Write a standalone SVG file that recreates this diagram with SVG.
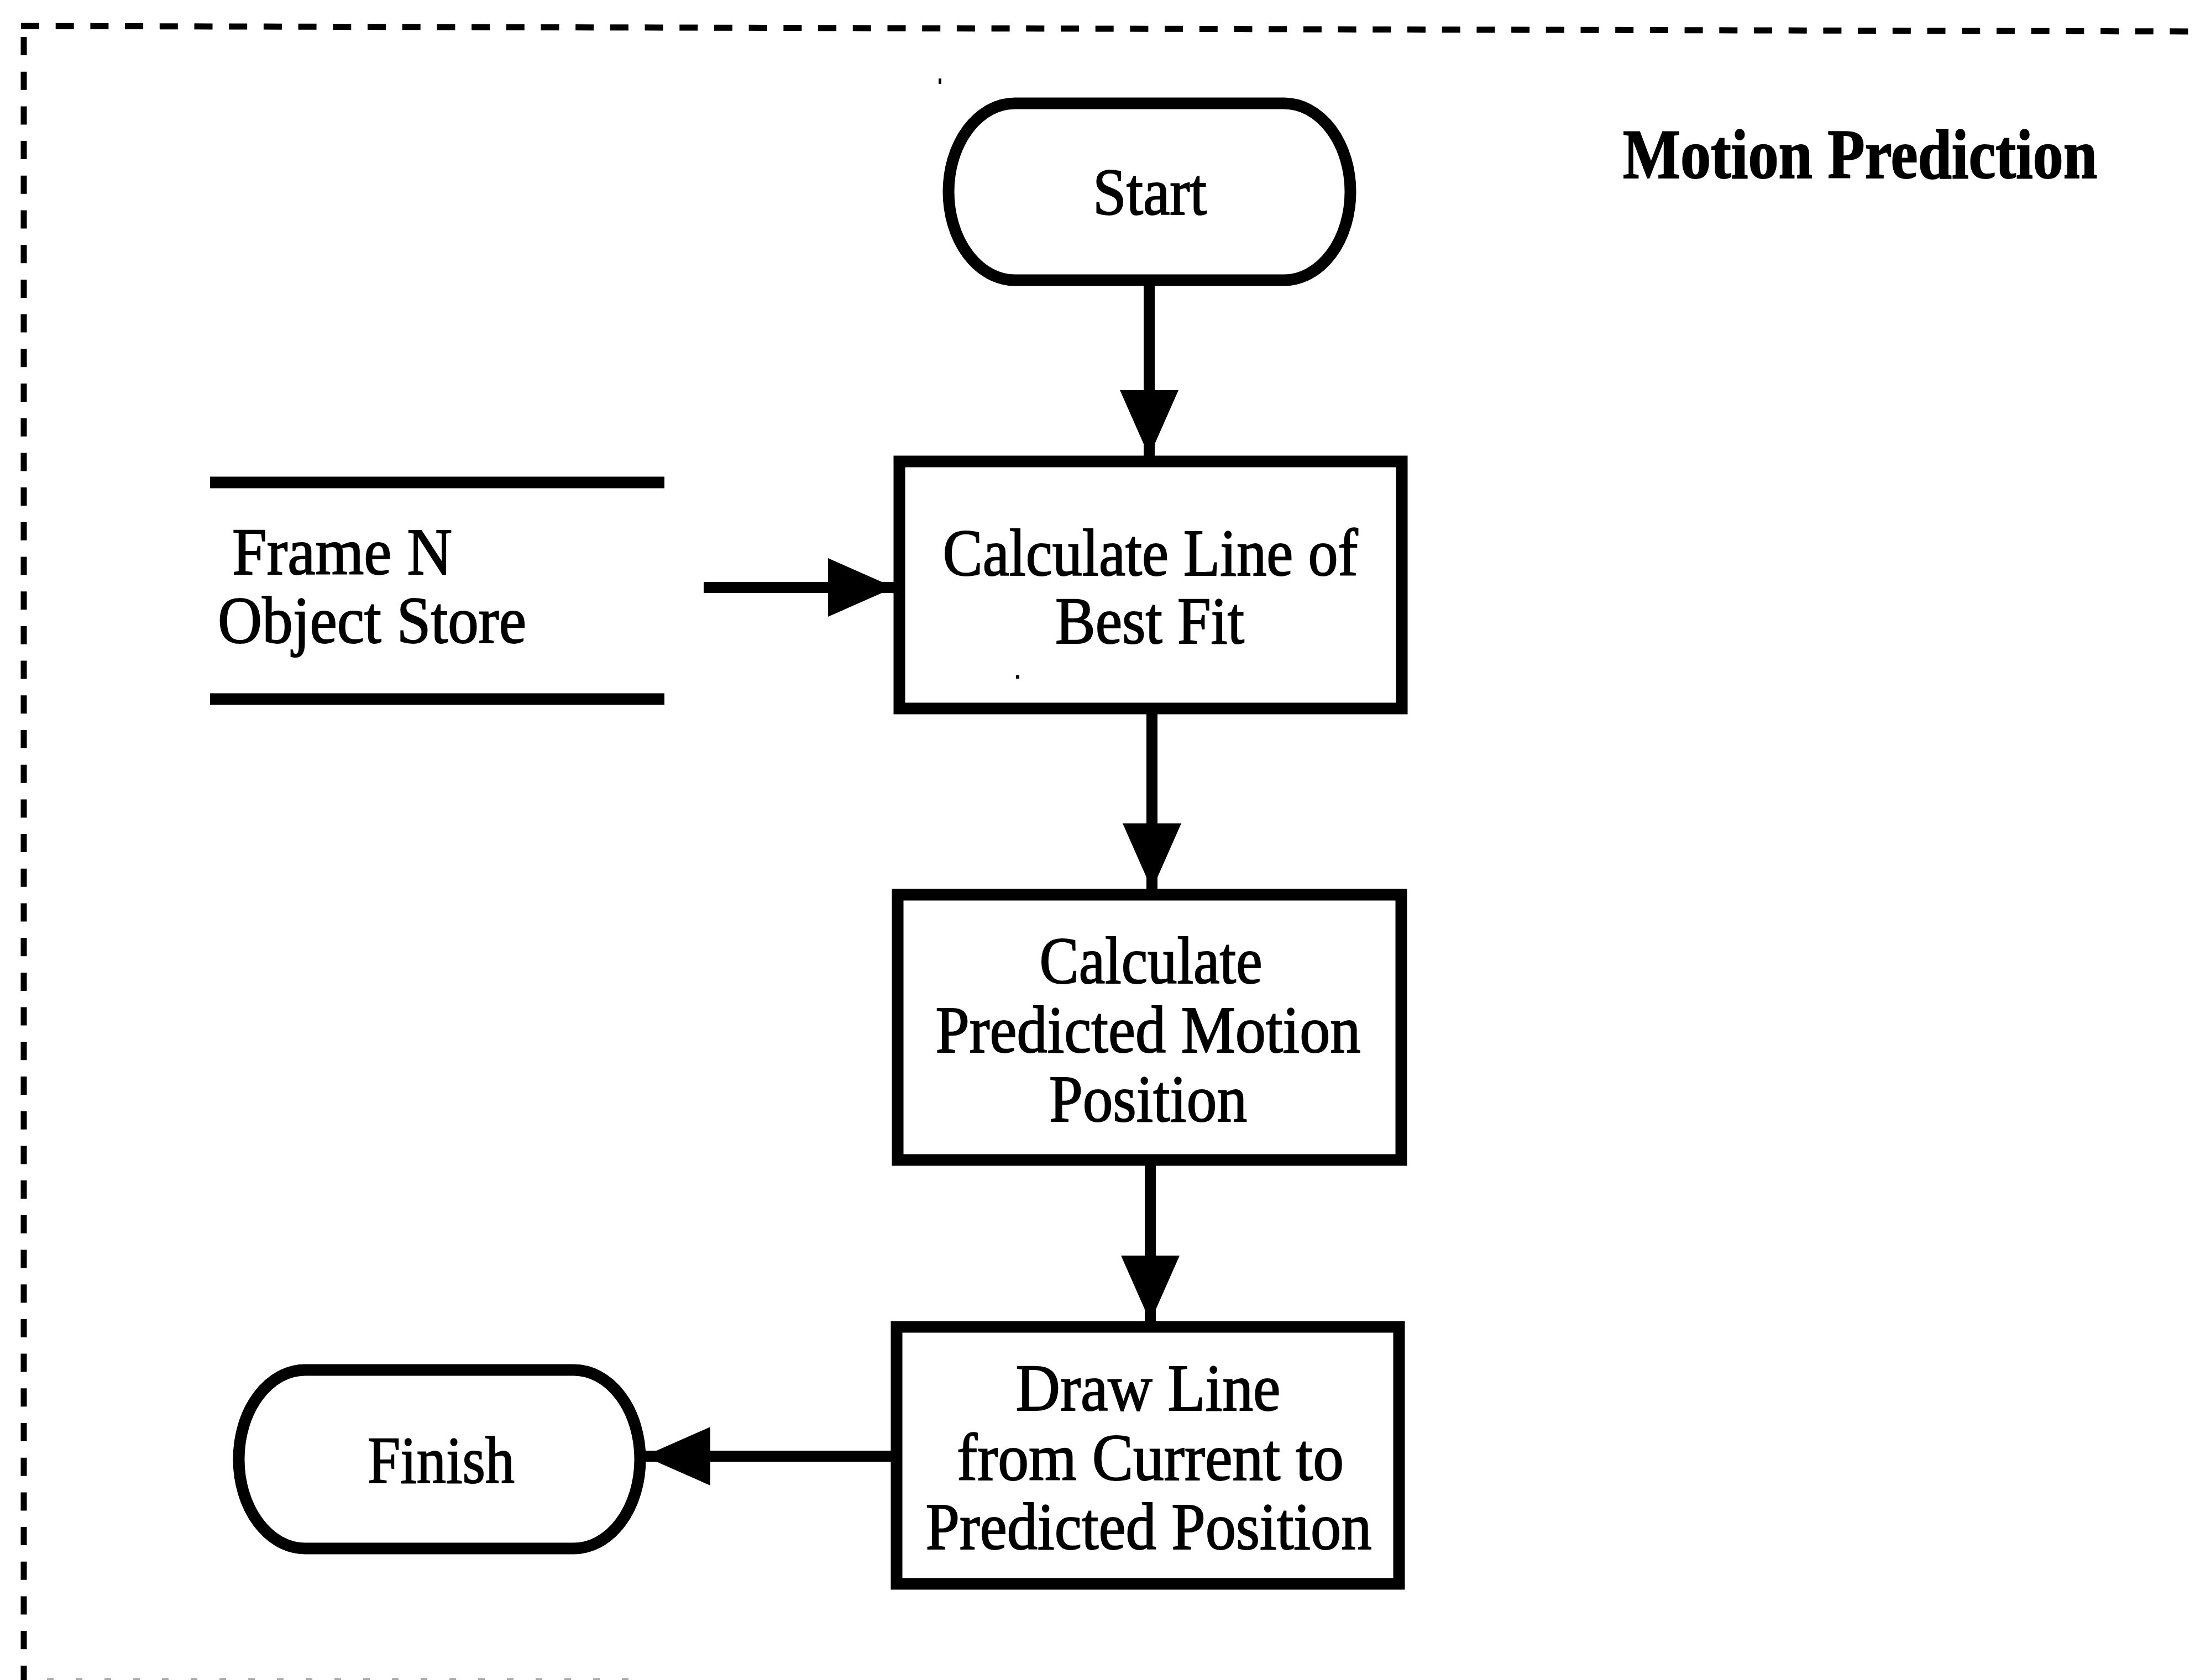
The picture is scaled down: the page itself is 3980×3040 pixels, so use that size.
<svg xmlns="http://www.w3.org/2000/svg" width="3980" height="3040" viewBox="0 0 3980 3040">
  <style>
    .t { font-family: "Liberation Serif", "Times New Roman", serif; font-size: 120px; fill: #000; stroke: #000; stroke-width: 2; }
    .mid { text-anchor: middle; }
    .title { font-weight: bold; font-size: 127px; }
    .shape { fill: #fff; stroke: #000; stroke-width: 21; }
    .store { stroke: #000; stroke-width: 21; fill: none; }
    .conn { stroke: #000; stroke-width: 20; fill: none; marker-end: url(#arrow); }
    .frame { stroke: #000; stroke-width: 11; fill: none; stroke-dasharray: 33 29.7; }
    .edge { stroke: #aaa; stroke-width: 5; fill: none; stroke-dasharray: 12 40; }
  </style>
  <defs>
    <marker id="arrow" markerUnits="userSpaceOnUse" markerWidth="120" markerHeight="106" viewBox="0 0 120 106" refX="119" refY="53" orient="auto">
      <path d="M0,0 L120,53 L0,106 Z" fill="#000"/>
    </marker>
  </defs>

  <rect width="3980" height="3040" fill="#fff"/>

  <!-- dashed boundary of the process -->
  <g id="boundary">
    <path class="frame" d="M38,47 L3980,57"/>
    <path class="frame" d="M43,67 L43,3040"/>
    <path class="edge" d="M85,3039 L1170,3039"/>
  </g>

  <g id="title">
    <text class="t title" x="2936" y="322" textLength="858" lengthAdjust="spacingAndGlyphs">Motion Prediction</text>
  </g>

  <!-- connectors -->
  <g id="connectors">
    <path class="conn" d="M2079,515 L2079,825"/>
    <path class="conn" d="M1273,1063 L1617,1063"/>
    <path class="conn" d="M2084,1292 L2084,1609"/>
    <path class="conn" d="M2081,2109 L2081,2391"/>
    <path class="conn" d="M1612,2635 L1166,2635"/>
  </g>

  <g id="start">
    <rect class="shape" x="1716" y="187" width="727" height="320" rx="120" ry="160"/>
    <text class="t mid" x="2080" y="388" textLength="206" lengthAdjust="spacingAndGlyphs">Start</text>
  </g>

  <g id="object-store">
    <path class="store" d="M380,873 H1202"/>
    <path class="store" d="M380,1265 H1202"/>
    <text class="t" x="420" y="1039" textLength="398" lengthAdjust="spacingAndGlyphs">Frame N</text>
    <text class="t" x="394" y="1163" textLength="558" lengthAdjust="spacingAndGlyphs">Object Store</text>
  </g>

  <g id="line-of-best-fit">
    <rect class="shape" x="1627" y="835" width="909" height="447"/>
    <text class="t mid" x="2081" y="1041" textLength="751" lengthAdjust="spacingAndGlyphs">Calculate Line of</text>
    <text class="t mid" x="2080" y="1164" textLength="342" lengthAdjust="spacingAndGlyphs">Best Fit</text>
  </g>

  <g id="predicted-position">
    <rect class="shape" x="1624" y="1619" width="911" height="480"/>
    <text class="t mid" x="2082" y="1779" textLength="403" lengthAdjust="spacingAndGlyphs">Calculate</text>
    <text class="t mid" x="2077" y="1904" textLength="769" lengthAdjust="spacingAndGlyphs">Predicted Motion</text>
    <text class="t mid" x="2077" y="2029" textLength="358" lengthAdjust="spacingAndGlyphs">Position</text>
  </g>

  <g id="draw-line">
    <rect class="shape" x="1622" y="2401" width="909" height="465"/>
    <text class="t mid" x="2077" y="2552" textLength="479" lengthAdjust="spacingAndGlyphs">Draw Line</text>
    <text class="t mid" x="2081" y="2678" textLength="700" lengthAdjust="spacingAndGlyphs">from Current to</text>
    <text class="t mid" x="2078" y="2803" textLength="807" lengthAdjust="spacingAndGlyphs">Predicted Position</text>
  </g>

  <g id="finish">
    <rect class="shape" x="432" y="2479" width="726" height="323" rx="120" ry="161"/>
    <text class="t mid" x="798" y="2683" textLength="266" lengthAdjust="spacingAndGlyphs">Finish</text>
  </g>

  <!-- stray marks -->
  <g id="marks" fill="#000">
    <rect x="1698" y="142" width="5" height="10"/>
    <rect x="1838" y="1222" width="6" height="6"/>
  </g>
</svg>
